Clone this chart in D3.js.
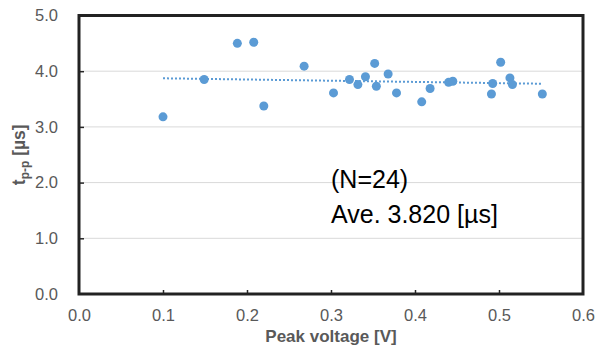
<!DOCTYPE html>
<html><head><meta charset="utf-8">
<script src="https://cdn.jsdelivr.net/npm/d3@7"></script>
<style>body{margin:0;background:#fff}svg{display:block}</style>
</head><body>
<svg id="c" width="595" height="356"></svg>
<script>
const peakVoltage = [0.100,0.149,0.1885,0.208,0.220,0.268,0.303,0.322,0.332,0.341,0.352,0.354,0.368,0.378,0.408,0.418,0.440,0.445,0.491,0.4925,0.502,0.513,0.516,0.5516];
const tpp         = [3.18,3.85,4.50,4.52,3.375,4.09,3.61,3.85,3.76,3.90,4.14,3.73,3.95,3.61,3.45,3.69,3.80,3.82,3.59,3.78,4.16,3.88,3.76,3.59];
const xTicks = [0,0.1,0.2,0.3,0.4,0.5,0.6];
const yTicks = [0,1,2,3,4,5];
const annotation = ["(N=24)", "Ave. 3.820 [\u00b5s]"];

const svg = d3.select("#c");
const L=79, R=583, T=15.5, B=294;
const x = d3.scaleLinear().domain([0,0.6]).range([L,R]);
const y = d3.scaleLinear().domain([0,5]).range([B,T]);
const font = "'Liberation Sans', Arial, sans-serif";
const gray = "#595959";

// gridlines
svg.append("g").selectAll("line").data(yTicks.filter(d=>d>0&&d<5)).join("line")
  .attr("x1",L).attr("x2",R).attr("y1",d=>y(d)).attr("y2",d=>y(d))
  .attr("stroke","#d9d9d9").attr("stroke-width",1);

// axes
const yAxis = svg.append("g").attr("transform",`translate(${L},0)`)
  .call(d3.axisLeft(y).tickValues(yTicks).tickFormat(d3.format(".1f")).tickSizeInner(-5).tickSizeOuter(0).tickPadding(21));
const xAxis = svg.append("g").attr("transform",`translate(0,${B})`)
  .call(d3.axisBottom(x).tickValues(xTicks).tickFormat(d3.format(".1f")).tickSizeInner(-4).tickSizeOuter(0).tickPadding(15));
[yAxis,xAxis].forEach(g=>{
  g.select(".domain").remove();
  g.selectAll(".tick line").attr("stroke","#262626").attr("stroke-width",1.5);
  g.selectAll(".tick text").attr("fill",gray).style("font-family",font).style("font-size","16.5px");
});
xAxis.selectAll(".tick").filter(d=>d===0||d===0.6).select("line").remove();
yAxis.selectAll(".tick").filter(d=>d===0||d===5).select("line").remove();

// frame
svg.append("rect").attr("x",L).attr("y",T).attr("width",R-L).attr("height",B-T)
  .attr("fill","none").attr("stroke","#222").attr("stroke-width",3);

// trendline (least squares)
const n = peakVoltage.length;
const mx = d3.mean(peakVoltage), my = d3.mean(tpp);
let sxy=0, sxx=0;
for(let i=0;i<n;i++){ sxy+=(peakVoltage[i]-mx)*(tpp[i]-my); sxx+=(peakVoltage[i]-mx)**2; }
const slope = sxy/sxx, icpt = my - slope*mx;
const [x0,x1] = d3.extent(peakVoltage);
svg.append("line").attr("x1",x(x0)).attr("x2",x(x1))
  .attr("y1",y(icpt+slope*x0)).attr("y2",y(icpt+slope*x1))
  .attr("stroke","#5B9BD5").attr("stroke-width",2).attr("stroke-dasharray","2,2");

// points
svg.append("g").selectAll("circle").data(peakVoltage).join("circle")
  .attr("cx",d=>x(d)).attr("cy",(d,i)=>y(tpp[i])).attr("r",4.5).attr("fill","#5B9BD5");

// annotation
svg.append("g").selectAll("text").data(annotation).join("text")
  .attr("x",331).attr("y",(d,i)=>188+i*35).text(d=>d)
  .attr("fill","#000").style("font-family",font).style("font-size","25px");

// axis titles
svg.append("text").attr("x",(L+R)/2).attr("y",342).attr("text-anchor","middle")
  .attr("fill",gray).style("font-family",font).style("font-size","17px").style("font-weight","bold")
  .text("Peak voltage [V]");
const yt = svg.append("text").attr("transform",`translate(25,${(T+B)/2}) rotate(-90)`).attr("text-anchor","middle")
  .attr("fill",gray).style("font-family",font).style("font-size","17.5px").style("font-weight","bold");
yt.append("tspan").text("t");
yt.append("tspan").attr("dy",4).style("font-size","12px").text("p-p");
yt.append("tspan").attr("dy",-4).text(" [\u00b5s]");
</script>
</body></html>
